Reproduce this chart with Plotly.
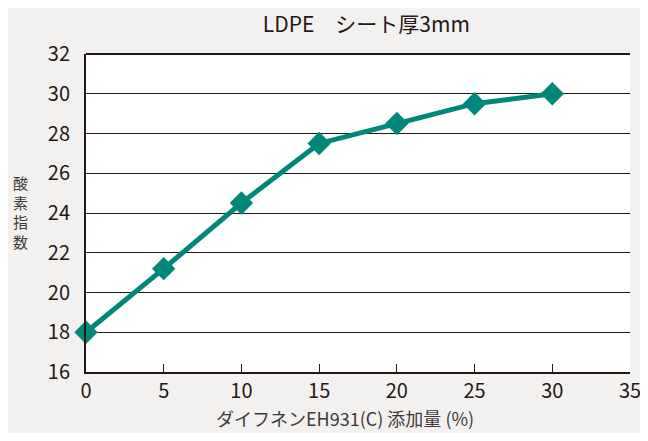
import plotly.graph_objects as go

# ダイフネンEH931(C) 添加量 (%) vs 酸素指数
addition = [0, 5, 10, 15, 20, 25, 30]
oxygen_index = [18, 21.2, 24.5, 27.5, 28.5, 29.5, 30]

font_family = "Noto Sans CJK JP, Noto Sans, sans-serif"
teal = "#00877a"
ink = "#231815"
grey_text = "#3e3a39"

fig = go.Figure()
fig.add_trace(go.Scatter(
    x=addition,
    y=oxygen_index,
    mode="lines+markers",
    line=dict(color=teal, width=5),
    marker=dict(symbol="diamond", size=18, color=teal),
    cliponaxis=False,
    showlegend=False,
))

# page body keeps an 8px margin; size the figure so no scrollbars appear
fig.update_layout(
    width=640, height=425,
    paper_bgcolor="#f3f1ef",
    plot_bgcolor="#ffffff",
    margin=dict(l=78, r=18, t=46, b=61),
    font=dict(family=font_family, size=20, color=ink),
    title=dict(text="LDPE　シート厚3mm", x=0.56, xanchor="center", y=0.961, yanchor="middle",
               font=dict(size=21)),
    xaxis=dict(
        range=[0, 35], dtick=5, tick0=0,
        showgrid=False, zeroline=False,
        showline=True, linecolor=ink, linewidth=2,
        ticks="inside", ticklen=8, tickcolor=ink, tickwidth=1,
        ticklabeloverflow="allow", automargin=False,
    ),
    yaxis=dict(
        range=[16, 32], dtick=2, tick0=16,
        showgrid=True, gridcolor=ink, gridwidth=1,
        zeroline=False,
        showline=True, linecolor=ink, linewidth=2,
        ticks="", ticklabelstandoff=10, automargin=False,
    ),
)

# x axis title
fig.add_annotation(text="ダイフネンEH931(C) 添加量 (%)", x=0.476, y=-0.145, xref="paper", yref="paper",
                   xanchor="center", yanchor="middle", showarrow=False,
                   font=dict(size=18, color=grey_text))

# vertical y axis title, one character per line
fig.add_annotation(text="酸<br>素<br>指<br>数", x=-0.12, y=0.503, xref="paper", yref="paper",
                   xanchor="center", yanchor="middle", showarrow=False,
                   font=dict(size=15, color=grey_text))

fig.add_shape(type="line", xref="paper", yref="paper", x0=0, x1=1, y0=1, y1=1,
              line=dict(color=ink, width=2))

fig.write_html("out.html")
